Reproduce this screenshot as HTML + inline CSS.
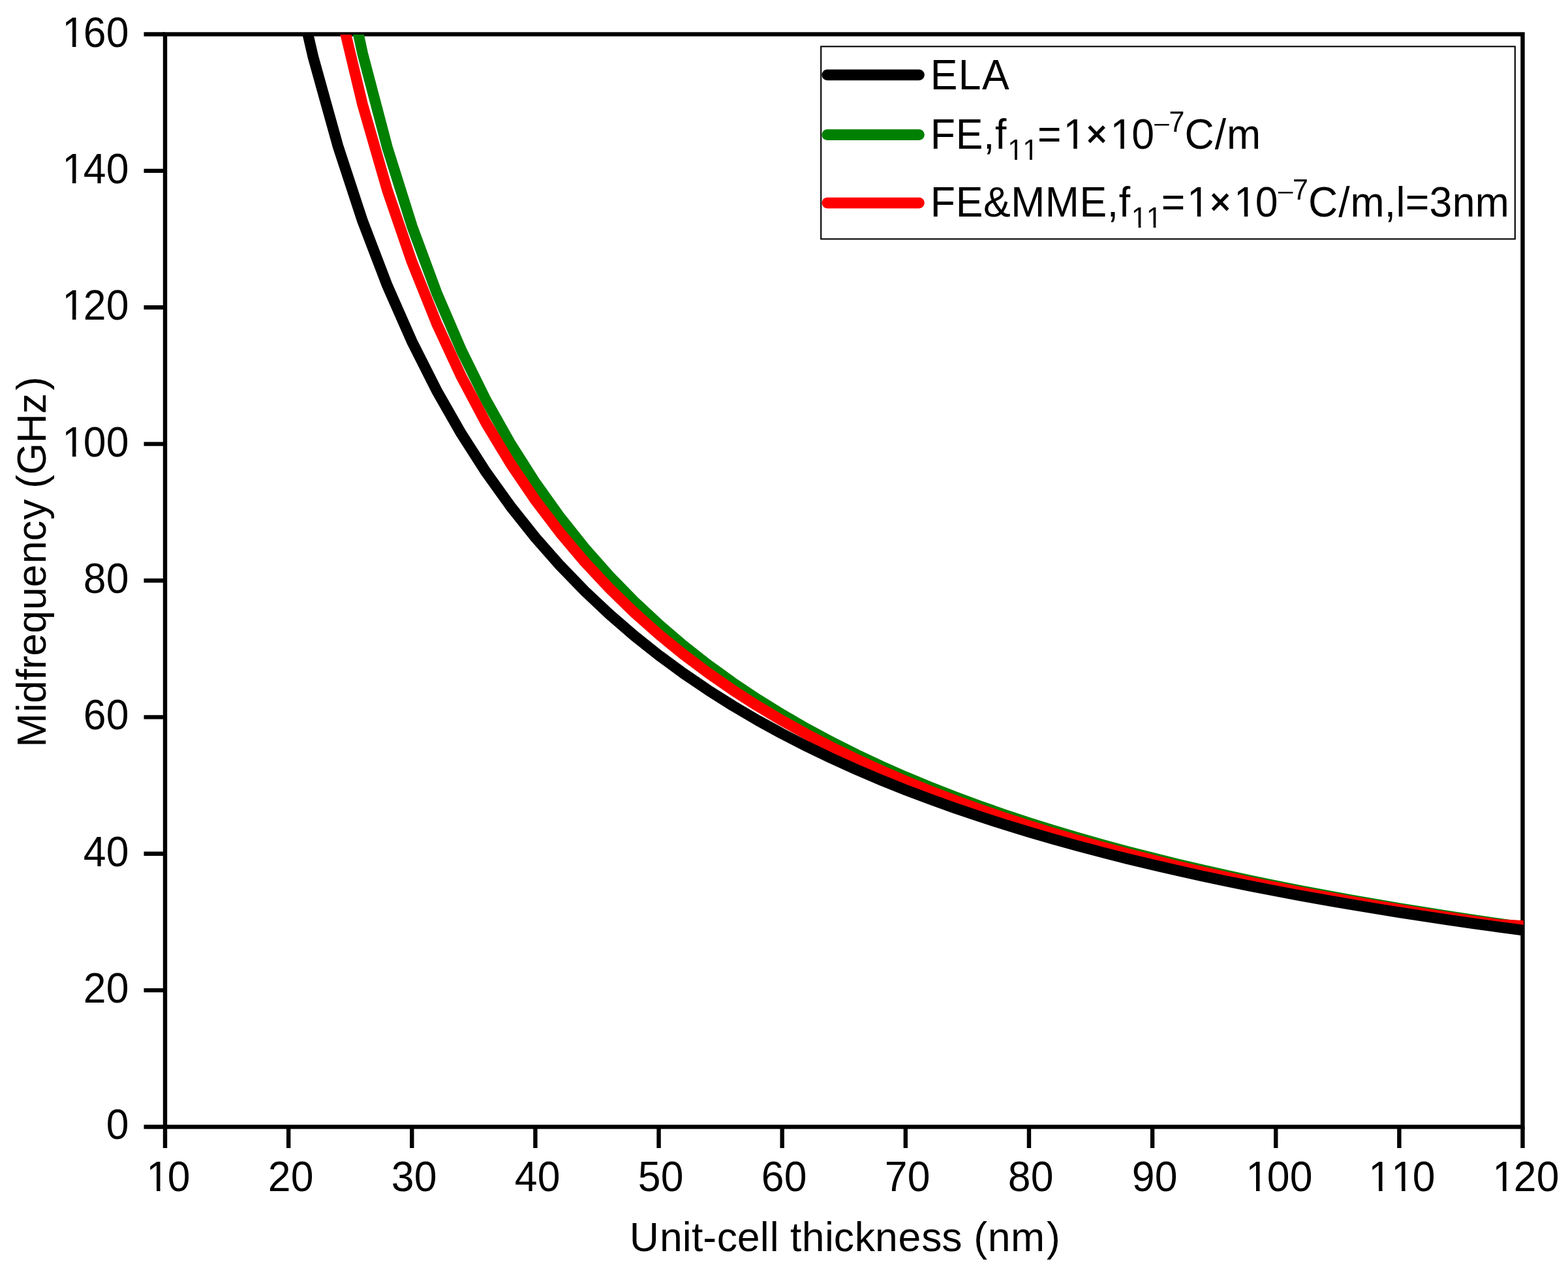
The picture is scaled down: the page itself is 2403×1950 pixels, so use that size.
<!DOCTYPE html>
<html lang="en"><head><meta charset="utf-8"><title>Midfrequency vs unit-cell thickness</title>
<style>
html,body{margin:0;padding:0;background:#fff;}
body{width:2403px;height:1950px;overflow:hidden;}
svg{display:block;}
text{font-family:"Liberation Sans",Arial,Helvetica,sans-serif;fill:#000;font-kerning:none;font-variant-ligatures:none;white-space:pre;}
</style></head><body>
<svg width="2403" height="1950" viewBox="0 0 2403 1950">
<rect width="2403" height="1950" fill="#fff"/>
<defs><clipPath id="ax"><rect x="253.6" y="53.1" width="2081.3" height="1675.0"/></clipPath></defs>

<g stroke="#000" stroke-width="6.4" fill="none" stroke-linecap="butt">
<rect x="253.0" y="52.5" width="2080.5" height="1675.0"/>
<line x1="253.00" y1="1727.5" x2="253.00" y2="1760.0"/>
<line x1="442.14" y1="1727.5" x2="442.14" y2="1760.0"/>
<line x1="631.27" y1="1727.5" x2="631.27" y2="1760.0"/>
<line x1="820.41" y1="1727.5" x2="820.41" y2="1760.0"/>
<line x1="1009.55" y1="1727.5" x2="1009.55" y2="1760.0"/>
<line x1="1198.68" y1="1727.5" x2="1198.68" y2="1760.0"/>
<line x1="1387.82" y1="1727.5" x2="1387.82" y2="1760.0"/>
<line x1="1576.95" y1="1727.5" x2="1576.95" y2="1760.0"/>
<line x1="1766.09" y1="1727.5" x2="1766.09" y2="1760.0"/>
<line x1="1955.23" y1="1727.5" x2="1955.23" y2="1760.0"/>
<line x1="2144.36" y1="1727.5" x2="2144.36" y2="1760.0"/>
<line x1="2333.50" y1="1727.5" x2="2333.50" y2="1760.0"/>
<line x1="253.0" y1="1727.50" x2="220.5" y2="1727.50"/>
<line x1="253.0" y1="1518.12" x2="220.5" y2="1518.12"/>
<line x1="253.0" y1="1308.75" x2="220.5" y2="1308.75"/>
<line x1="253.0" y1="1099.38" x2="220.5" y2="1099.38"/>
<line x1="253.0" y1="890.00" x2="220.5" y2="890.00"/>
<line x1="253.0" y1="680.62" x2="220.5" y2="680.62"/>
<line x1="253.0" y1="471.25" x2="220.5" y2="471.25"/>
<line x1="253.0" y1="261.88" x2="220.5" y2="261.88"/>
<line x1="253.0" y1="52.50" x2="220.5" y2="52.50"/>
</g>
<g clip-path="url(#ax)" fill="none" stroke-width="16.67" stroke-linejoin="round">
<path d="M442.14,-585.25 L479.96,-309.85 L517.79,-93.09 L555.62,81.78 L593.45,225.74 L631.27,346.29 L669.10,448.70 L706.93,536.77 L744.75,613.32 L782.58,680.48 L820.41,739.89 L858.24,792.81 L896.06,840.27 L933.89,883.07 L971.72,921.86 L1009.55,957.20 L1047.37,989.52 L1085.20,1019.21 L1123.03,1046.56 L1160.85,1071.85 L1198.68,1095.31 L1236.51,1117.12 L1274.34,1137.46 L1312.16,1156.47 L1349.99,1174.28 L1387.82,1191.00 L1425.65,1206.73 L1463.47,1221.55 L1501.30,1235.55 L1539.13,1248.78 L1576.95,1261.31 L1614.78,1273.20 L1652.61,1284.49 L1690.44,1295.22 L1728.26,1305.45 L1766.09,1315.19 L1803.92,1324.50 L1841.75,1333.39 L1879.57,1341.89 L1917.40,1350.03 L1955.23,1357.83 L1993.05,1365.32 L2030.88,1372.50 L2068.71,1379.40 L2106.54,1386.04 L2144.36,1392.43 L2182.19,1398.58 L2220.02,1404.51 L2257.85,1410.22 L2295.67,1415.74 L2333.50,1421.07 L2339.50,1421.91" stroke="#008000"/>
<path d="M442.14,-437.29 L479.96,-192.08 L517.79,2.33 L555.62,160.28 L593.45,291.19 L631.27,401.48 L669.10,495.71 L706.93,577.18 L744.75,648.34 L782.58,711.04 L820.41,766.73 L858.24,816.53 L896.06,861.34 L933.89,901.88 L971.72,938.73 L1009.55,972.39 L1047.37,1003.26 L1085.20,1031.67 L1123.03,1057.90 L1160.85,1082.21 L1198.68,1104.79 L1236.51,1125.83 L1274.34,1145.48 L1312.16,1163.87 L1349.99,1181.12 L1387.82,1197.34 L1425.65,1212.62 L1463.47,1227.03 L1501.30,1240.65 L1539.13,1253.54 L1576.95,1265.77 L1614.78,1277.37 L1652.61,1288.40 L1690.44,1298.90 L1728.26,1308.91 L1766.09,1318.45 L1803.92,1327.57 L1841.75,1336.29 L1879.57,1344.63 L1917.40,1352.62 L1955.23,1360.29 L1993.05,1367.64 L2030.88,1374.71 L2068.71,1381.50 L2106.54,1388.03 L2144.36,1394.32 L2182.19,1400.38 L2220.02,1406.23 L2257.85,1411.87 L2295.67,1417.31 L2333.50,1419.40 L2339.50,1419.73" stroke="#ff0000"/>
<path d="M442.14,-75.55 L479.96,87.51 L517.79,223.58 L555.62,338.83 L593.45,437.71 L631.27,523.46 L669.10,598.53 L706.93,664.79 L744.75,723.72 L782.58,776.46 L820.41,823.94 L858.24,866.91 L896.06,905.97 L933.89,941.65 L971.72,974.36 L1009.55,1004.46 L1047.37,1032.24 L1085.20,1057.97 L1123.03,1081.86 L1160.85,1104.11 L1198.68,1124.88 L1236.51,1144.30 L1274.34,1162.52 L1312.16,1179.63 L1349.99,1195.73 L1387.82,1210.92 L1425.65,1225.26 L1463.47,1238.83 L1501.30,1251.68 L1539.13,1263.88 L1576.95,1275.47 L1614.78,1286.49 L1652.61,1296.98 L1690.44,1306.99 L1728.26,1316.55 L1766.09,1325.68 L1803.92,1334.41 L1841.75,1342.77 L1879.57,1350.78 L1917.40,1358.47 L1955.23,1365.85 L1993.05,1372.94 L2030.88,1379.75 L2068.71,1386.31 L2106.54,1392.63 L2144.36,1398.72 L2182.19,1404.59 L2220.02,1410.25 L2257.85,1415.72 L2295.67,1421.00 L2333.50,1426.11 L2339.50,1426.92" stroke="#000"/>
</g>
<rect x="1258.2" y="71.3" width="1063.6" height="295.1" fill="#fff" stroke="#000" stroke-width="2.1"/>
<g stroke-width="16.67" stroke-linecap="round">
<line x1="1267.7" y1="114.8" x2="1408.5" y2="114.8" stroke="#000"/>
<line x1="1267.7" y1="206.6" x2="1408.5" y2="206.6" stroke="#008000"/>
<line x1="1267.7" y1="311.1" x2="1408.5" y2="311.1" stroke="#ff0000"/>
</g>
<g>
<text transform="translate(0,1826.00) scale(1,1.0465)"><tspan x="224.30 256.80" y="0.00" font-size="62.5px">10</tspan></text>
<text transform="translate(0,1826.00) scale(1,1.0465)"><tspan x="410.80 445.80" y="0.00" font-size="62.5px">20</tspan></text>
<text transform="translate(0,1826.00) scale(1,1.0465)"><tspan x="599.80 634.80" y="0.00" font-size="62.5px">30</tspan></text>
<text transform="translate(0,1826.00) scale(1,1.0465)"><tspan x="788.80 823.80" y="0.00" font-size="62.5px">40</tspan></text>
<text transform="translate(0,1826.00) scale(1,1.0465)"><tspan x="977.80 1012.80" y="0.00" font-size="62.5px">50</tspan></text>
<text transform="translate(0,1826.00) scale(1,1.0465)"><tspan x="1166.80 1201.80" y="0.00" font-size="62.5px">60</tspan></text>
<text transform="translate(0,1826.00) scale(1,1.0465)"><tspan x="1355.80 1390.80" y="0.00" font-size="62.5px">70</tspan></text>
<text transform="translate(0,1826.00) scale(1,1.0465)"><tspan x="1544.80 1579.80" y="0.00" font-size="62.5px">80</tspan></text>
<text transform="translate(0,1826.00) scale(1,1.0465)"><tspan x="1734.80 1769.80" y="0.00" font-size="62.5px">90</tspan></text>
<text transform="translate(0,1826.00) scale(1,1.0465)"><tspan x="1909.25 1941.75 1976.75" y="0.00" font-size="62.5px">100</tspan></text>
<text transform="translate(0,1826.00) scale(1,1.0465)"><tspan x="2097.33 2132.33 2164.83" y="0.00" font-size="62.5px">110</tspan></text>
<text transform="translate(0,1826.00) scale(1,1.0465)"><tspan x="2287.28 2319.78 2354.78" y="0.00" font-size="62.5px">120</tspan></text>
<text transform="translate(0,1746.00) scale(1,1.0465)"><tspan x="162.68" y="0.00" font-size="62.5px">0</tspan></text>
<text transform="translate(0,1537.00) scale(1,1.0465)"><tspan x="127.68 162.68" y="0.00" font-size="62.5px">20</tspan></text>
<text transform="translate(0,1328.00) scale(1,1.0465)"><tspan x="127.68 162.68" y="0.00" font-size="62.5px">40</tspan></text>
<text transform="translate(0,1118.00) scale(1,1.0465)"><tspan x="127.68 162.68" y="0.00" font-size="62.5px">60</tspan></text>
<text transform="translate(0,909.00) scale(1,1.0465)"><tspan x="127.68 162.68" y="0.00" font-size="62.5px">80</tspan></text>
<text transform="translate(0,700.00) scale(1,1.0465)"><tspan x="95.18 127.68 162.68" y="0.00" font-size="62.5px">100</tspan></text>
<text transform="translate(0,490.00) scale(1,1.0465)"><tspan x="95.18 127.68 162.68" y="0.00" font-size="62.5px">120</tspan></text>
<text transform="translate(0,281.00) scale(1,1.0465)"><tspan x="95.18 127.68 162.68" y="0.00" font-size="62.5px">140</tspan></text>
<text transform="translate(0,72.00) scale(1,1.0465)"><tspan x="95.18 127.68 162.68" y="0.00" font-size="62.5px">160</tspan></text>
<text transform="translate(0,1918) scale(1,1.01)" x="964.81 1011.02 1045.87 1060.04 1077.19 1098.64 1129.88 1164.79 1179.76 1193.64 1211.05 1228.73 1263.92 1277.74 1309.73 1341.02 1376.44 1412.16 1443.26 1474.51 1492.24 1513.82 1548.98 1603.95" y="0" font-size="62.5px">Unit-cell thickness (nm)</text>
<text transform="translate(70,0) rotate(-90) scale(1,1.01)" x="-1145.43 -1091.98 -1078.02 -1042.94 -1025.95 -1005.86 -970.82 -934.96 -900.16 -864.11 -829.36 -796.75 -765.50 -748.76 -727.84 -679.23 -634.23 -598.25" y="0" font-size="62.5px">Midfrequency (GHz)</text>
<text transform="translate(0,137.00) scale(1,1.04)"><tspan x="1425.87 1468.86 1504.92" y="0.00" font-size="62.5px">ELA</tspan></text>
<text transform="translate(0,228.00) scale(1,1.04)"><tspan x="1425.87 1464.65 1506.93 1524.90" y="0.00" font-size="62.5px">FE,f</tspan><tspan x="1544.22 1567.18" y="16.25" font-size="43.0px">11</tspan><tspan x="1590.05 1629.45" y="0.00" font-size="62.5px">=1</tspan><tspan x="1664.14" y="-2.70" font-size="56.0px" stroke="#000" stroke-width="1.2">×</tspan><tspan x="1701.51 1734.17" y="0.00" font-size="62.5px">10</tspan><tspan x="1766.84" y="-19.46" font-size="48.4px" font-family="'Liberation Serif',serif">−</tspan><tspan x="1791.50" y="-25.29" font-size="43.0px">7</tspan><tspan x="1815.50 1861.64 1880.00" y="0.00" font-size="62.5px">C/m</tspan></text>
<text transform="translate(0,332.00) scale(1,1.04)"><tspan x="1425.87 1464.65 1506.93 1549.22 1601.88 1654.55 1696.83 1714.80" y="0.00" font-size="62.5px">FE&amp;MME,f</tspan><tspan x="1733.82 1756.78" y="16.25" font-size="43.0px">11</tspan><tspan x="1779.65 1819.05" y="0.00" font-size="62.5px">=1</tspan><tspan x="1853.74" y="-2.70" font-size="56.0px" stroke="#000" stroke-width="1.2">×</tspan><tspan x="1891.11 1923.77" y="0.00" font-size="62.5px">10</tspan><tspan x="1956.44" y="-19.46" font-size="48.4px" font-family="'Liberation Serif',serif">−</tspan><tspan x="1981.10" y="-25.29" font-size="43.0px">7</tspan><tspan x="2005.10 2051.24 2069.60 2121.76 2139.48 2153.71 2190.56 2225.67 2260.78" y="0.00" font-size="62.5px">C/m,l=3nm</tspan></text>
</g>
<g fill="#fff">
<rect x="227.86" y="1820.31" width="12.16" height="7.19"/>
<rect x="245.54" y="1820.31" width="11.67" height="7.19"/>
<rect x="1912.81" y="1820.31" width="12.16" height="7.19"/>
<rect x="1930.49" y="1820.31" width="11.67" height="7.19"/>
<rect x="2100.89" y="1820.31" width="12.16" height="7.19"/>
<rect x="2118.57" y="1820.31" width="11.67" height="7.19"/>
<rect x="2135.89" y="1820.31" width="12.16" height="7.19"/>
<rect x="2153.57" y="1820.31" width="11.67" height="7.19"/>
<rect x="2290.84" y="1820.31" width="12.16" height="7.19"/>
<rect x="2308.52" y="1820.31" width="11.67" height="7.19"/>
<rect x="98.74" y="694.31" width="12.16" height="7.19"/>
<rect x="116.42" y="694.31" width="11.67" height="7.19"/>
<rect x="98.74" y="484.31" width="12.16" height="7.19"/>
<rect x="116.42" y="484.31" width="11.67" height="7.19"/>
<rect x="98.74" y="275.31" width="12.16" height="7.19"/>
<rect x="116.42" y="275.31" width="11.67" height="7.19"/>
<rect x="98.74" y="66.31" width="12.16" height="7.19"/>
<rect x="116.42" y="66.31" width="11.67" height="7.19"/>
<rect x="1546.30" y="240.76" width="8.74" height="5.64"/>
<rect x="1558.83" y="240.76" width="8.40" height="5.64"/>
<rect x="1569.26" y="240.76" width="8.74" height="5.64"/>
<rect x="1581.80" y="240.76" width="8.40" height="5.64"/>
<rect x="1633.01" y="222.34" width="12.16" height="7.16"/>
<rect x="1650.69" y="222.34" width="11.67" height="7.16"/>
<rect x="1705.07" y="222.34" width="12.16" height="7.16"/>
<rect x="1722.75" y="222.34" width="11.67" height="7.16"/>
<rect x="1735.90" y="344.76" width="8.74" height="5.64"/>
<rect x="1748.43" y="344.76" width="8.40" height="5.64"/>
<rect x="1758.86" y="344.76" width="8.74" height="5.64"/>
<rect x="1771.40" y="344.76" width="8.40" height="5.64"/>
<rect x="1822.61" y="326.34" width="12.16" height="7.16"/>
<rect x="1840.29" y="326.34" width="11.67" height="7.16"/>
<rect x="1894.67" y="326.34" width="12.16" height="7.16"/>
<rect x="1912.35" y="326.34" width="11.67" height="7.16"/>
</g>
</svg></body></html>
